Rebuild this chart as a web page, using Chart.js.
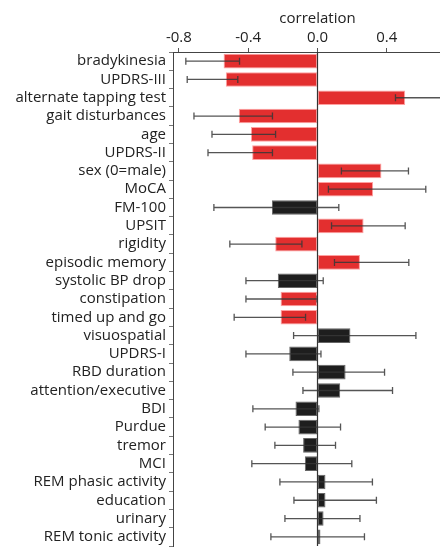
<!DOCTYPE html>
<html>
<head>
<meta charset="utf-8">
<script src="https://cdn.jsdelivr.net/npm/chart.js@4"></script>
<style>
    html, body { margin: 0; padding: 0; overflow: hidden; background: #fff; }
    canvas { display: block; }
</style>
</head>
<body>
<canvas id="corrChart" width="462" height="547"></canvas>
<script>
const labels = [
    "bradykinesia", "UPDRS-III", "alternate tapping test", "gait disturbances", "age",
    "UPDRS-II", "sex (0=male)", "MoCA", "FM-100", "UPSIT", "rigidity", "episodic memory",
    "systolic BP drop", "constipation", "timed up and go", "visuospatial", "UPDRS-I",
    "RBD duration", "attention/executive", "BDI", "Purdue", "tremor", "MCI",
    "REM phasic activity", "education", "urinary", "REM tonic activity",
];
const correlation = [
    -0.542, -0.529, 0.506, -0.454, -0.384, -0.377, 0.369, 0.321, -0.263, 0.266, -0.244, 0.245,
    -0.229, -0.213, -0.213, 0.19, -0.163, 0.162, 0.131, -0.127, -0.11, -0.083, -0.073,
    0.046, 0.046, 0.035, 0.017,
];
const ciLow = [
    -0.76, -0.752, 0.45, -0.713, -0.609, -0.632, 0.138, 0.063, -0.598, 0.081, -0.506, 0.098,
    -0.413, -0.413, -0.481, -0.138, -0.413, -0.142, -0.084, -0.373, -0.302, -0.246, -0.379,
    -0.217, -0.136, -0.188, -0.269,
];
const ciHigh = [
    -0.45, -0.46, 0.75, -0.26, -0.242, -0.26, 0.525, 0.625, 0.123, 0.506, -0.09, 0.527,
    0.033, -0.003, -0.069, 0.568, 0.02, 0.387, 0.433, 0.008, 0.133, 0.104, 0.198,
    0.317, 0.34, 0.245, 0.271,
];
// 1 = significant (red), 0 = not (black)
const significant = [
    1, 1, 1, 1, 1, 1, 1, 1, 0, 1, 1, 1,
    0, 1, 1, 0, 0, 0, 0, 0, 0, 0, 0,
    0, 0, 0, 0,
];
const xTicks = [-0.8, -0.4, 0, 0.4];

const font = { family: "'Open Sans', sans-serif", size: 15 };
const textColor = "#222";

const errorBars = {
    id: "errorBars",
    afterDatasetsDraw(chart) {
        const { ctx, chartArea, scales } = chart;
        const x = scales.x, y = scales.y;
        ctx.save();
        ctx.beginPath();
        ctx.rect(chartArea.left, chartArea.top, chartArea.right - chartArea.left, chartArea.bottom - chartArea.top);
        ctx.clip();
        // zero line
        const x0 = x.getPixelForValue(0);
        ctx.strokeStyle = "#333";
        ctx.lineWidth = 1.2;
        ctx.beginPath();
        ctx.moveTo(x0, chartArea.top);
        ctx.lineTo(x0, chartArea.bottom);
        ctx.stroke();
        ctx.strokeStyle = "rgba(55, 55, 55, 0.85)";
        ctx.lineWidth = 1.3;
        labels.forEach((_, i) => {
            const py = y.getPixelForValue(i);
            const a = x.getPixelForValue(ciLow[i]);
            const b = x.getPixelForValue(ciHigh[i]);
            ctx.beginPath();
            ctx.moveTo(a, py);
            ctx.lineTo(b, py);
            ctx.moveTo(a, py - 3.5);
            ctx.lineTo(a, py + 3.5);
            ctx.moveTo(b, py - 3.5);
            ctx.lineTo(b, py + 3.5);
            ctx.stroke();
        });
        ctx.restore();
    },
};

new Chart(document.getElementById("corrChart"), {
    type: "bar",
    data: {
        labels: labels,
        datasets: [
            {
                data: correlation,
                backgroundColor: significant.map((s) => (s ? "#e32f2f" : "#1e1e1e")),
                borderColor: significant.map((s) => (s ? "rgba(255, 150, 150, 0.9)" : "#666")),
                borderWidth: 1,
                borderSkipped: false,
                barPercentage: 0.8,
                categoryPercentage: 1,
            },
        ],
    },
    plugins: [errorBars],
    options: {
        indexAxis: "y",
        responsive: false,
        animation: false,
        layout: { padding: { left: 0, right: 0, top: 0, bottom: 1 } },
        plugins: {
            legend: { display: false },
            tooltip: { enabled: false },
        },
        scales: {
            x: {
                position: "top",
                min: -0.834,
                max: 0.834,
                afterBuildTicks: (scale) => {
                    scale.ticks = xTicks.map((v) => ({ value: v }));
                },
                afterFit: (scale) => {
                    scale.height = 52;
                },
                ticks: {
                    color: textColor,
                    font: font,
                    padding: 1,
                    maxRotation: 0,
                    callback: (v) => Number(v).toFixed(1),
                },
                title: {
                    display: true,
                    text: "correlation",
                    color: textColor,
                    font: font,
                    padding: { top: 10, bottom: 0 },
                },
                grid: {
                    drawOnChartArea: false,
                    tickLength: 4,
                    tickColor: "#555",
                },
                border: { color: "#444", width: 1 },
            },
            y: {
                afterFit: (scale) => {
                    scale.width = 173;
                    scale.paddingTop = 0;
                    scale.paddingBottom = 0;
                },
                ticks: {
                    color: textColor,
                    font: font,
                    padding: 3,
                    autoSkip: false,
                },
                grid: {
                    drawOnChartArea: false,
                    tickLength: 4,
                    tickColor: "#777",
                },
                border: { color: "#444", width: 1 },
            },
        },
    },
});
</script>
</body>
</html>
